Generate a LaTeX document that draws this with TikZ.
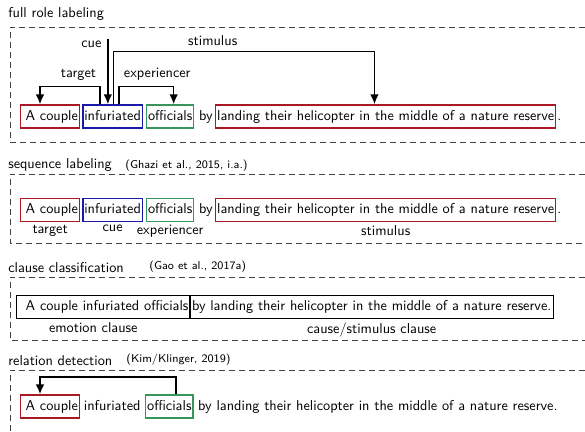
\documentclass[tikz,border=0pt]{standalone}
\usepackage{fontspec}
\usetikzlibrary{positioning, arrows.meta}

\definecolor{rolered}{RGB}{170,25,35}
\definecolor{roleblue}{RGB}{25,25,170}
\definecolor{rolegreen}{RGB}{55,150,90}

\begin{document}
\begin{tikzpicture}[x=0.7pt, y=-0.7pt, font=\sffamily,
		word/.style={inner xsep=1pt, inner ysep=3.5pt, text height=7pt, text depth=2pt},
		rolebox/.style={word, draw, line width=1pt},
		frame/.style={dash pattern=on 4pt off 3pt, line width=0.7pt, black!75},
		arr/.style={line width=1.2pt, -{Latex[length=7pt, width=6pt]}},
		title/.style={anchor=west, inner sep=0pt},
		cite/.style={anchor=west, inner sep=0pt, font=\sffamily\footnotesize},
		role/.style={inner sep=1pt}]
		\useasboundingbox (0,0) rectangle (585,432);

		% Dashed frames around the four tasks
		\foreach \t/\b in {27/142, 174/243, 277/340} {
				\draw[frame] (585,\t) -- (10,\t) -- (10,\b) -- (585,\b);
			}
		\draw[frame] (585,370) -- (10,370) -- (10,432);

		% Full role labeling
		\node[title] (t1) at (8,14) {full role labeling};
		\node[rolebox, draw=rolered, anchor=west] (a-cpl) at (20,116.5) {\hspace{2.5pt}A couple};
		\node[rolebox, draw=roleblue, right=1.4pt of a-cpl] (a-inf) {infuriated};
		\node[rolebox, draw=rolegreen, right=2pt of a-inf] (a-off) {officials};
		\node[word, right=2pt of a-off] (a-by) {by};
		\node[rolebox, draw=rolered, right=0.5pt of a-by] (a-stim) {landing their helicopter in the middle of a nature reserve};
		\node[word, right=0pt of a-stim, inner xsep=0.5pt] (a-dot) {.};

		\draw[arr] ([xshift=12.6pt]a-inf.north west) -- ++(0,12.6pt) -| node[pos=0.18, above] (l-tgt) {target} ([xshift=14pt]a-cpl.north west);
		\coordinate (cuetop) at ([xshift=18pt, yshift=45.5pt]a-inf.north west);
		\draw[arr] (cuetop) -- (cuetop |- a-inf.north);
		\node[left=1pt of cuetop, yshift=-3.5pt] (l-cue) {cue};
		\draw[arr] ([xshift=22pt]a-inf.north west) -- ++(0,37pt) -| node[pos=0.19, above] (l-stim) {stimulus} ([xshift=111.6pt]a-stim.north west);
		\draw[arr] ([xshift=25.9pt]a-inf.north west) -- ++(0,12.6pt) -| node[pos=0.35, above] (l-exp) {experiencer} ([xshift=19.4pt]a-off.north west);

		% Sequence labeling
		\node[title] (t2) at (8,165) {sequence labeling};
		\node[cite] (c2) at (125,166) {(Ghazi et al., 2015, i.a.)};
		\node[rolebox, draw=rolered, anchor=west] (b-cpl) at (20,210) {\hspace{2.5pt}A couple};
		\node[rolebox, draw=roleblue, right=1.4pt of b-cpl] (b-inf) {infuriated};
		\node[rolebox, draw=rolegreen, right=2pt of b-inf] (b-off) {officials};
		\node[word, right=2pt of b-off] (b-by) {by};
		\node[rolebox, draw=rolered, right=0.5pt of b-by] (b-stim) {landing their helicopter in the middle of a nature reserve};
		\node[word, right=0pt of b-stim, inner xsep=0.5pt] (b-dot) {.};

		\node[role, below=1pt of b-cpl] (b-tgt) {target};
		\node[role, below=1pt of b-inf] (b-cue) {cue};
		\node[role, below=1pt of b-off] (b-exp) {experiencer};
		\node[role, below=1pt of b-stim] (b-sti) {stimulus};

		% Clause classification
		\node[title] (t3) at (8,268) {clause classification};
		\node[cite] (c3) at (149,267) {(Gao et al., 2017a)};
		\node[rolebox, anchor=west] (c-emo) at (16,307) {\hspace{5.3pt}A couple infuriated officials};
		\node[rolebox, inner xsep=1.5pt, right=-1pt of c-emo] (c-cau) {by landing their helicopter in the middle of a nature reserve.};

		\node[role, below=1pt of c-emo, xshift=-7pt] (c-emol) {emotion clause};
		\node[role, below=1pt of c-cau] (c-caul) {cause/stimulus clause};

		% Relation detection
		\node[title] (t4) at (8,361) {relation detection};
		\node[cite] (c4) at (126,360) {(Kim/Klinger, 2019)};
		\node[rolebox, draw=rolered, anchor=west] (d-cpl) at (20,406.5) {\hspace{2.5pt}A couple};
		\node[word, right=1.4pt of d-cpl] (d-inf) {infuriated};
		\node[rolebox, draw=rolegreen, right=2pt of d-inf] (d-off) {officials};
		\node[word, right=2pt of d-off] (d-rest) {by landing their helicopter in the middle of a nature reserve.};

		\draw[arr] ([xshift=21.7pt]d-off.north west) -- ++(0,12pt) -| ([xshift=14pt]d-cpl.north west);
	\end{tikzpicture}
\end{document}
